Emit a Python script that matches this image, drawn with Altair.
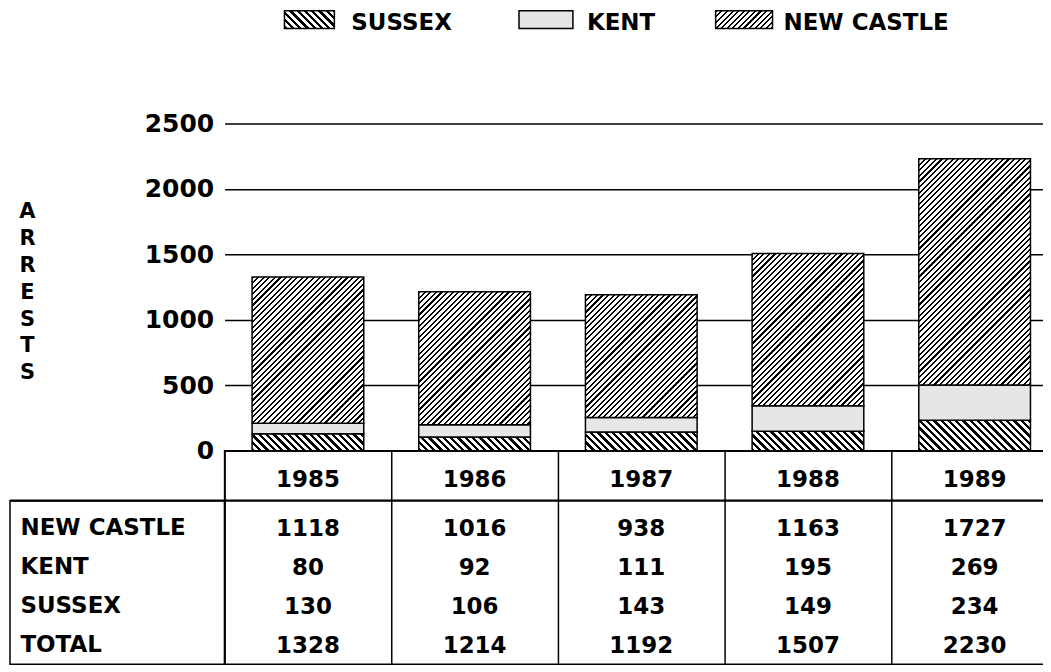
import altair as alt
import pandas as pd

# ---------------- data ----------------
years = [1985, 1986, 1987, 1988, 1989]
new_castle = [1118, 1016, 938, 1163, 1727]
kent = [80, 92, 111, 195, 269]
sussex = [130, 106, 143, 149, 234]
total = [1328, 1214, 1192, 1507, 2230]
series = ["SUSSEX", "KENT", "NEW CASTLE"]
row_labels = ["NEW CASTLE", "KENT", "SUSSEX", "TOTAL"]
y_ticks = [0, 500, 1000, 1500, 2000, 2500]
axis_title = ["A", "R", "R", "E", "S", "T", "S"]

# ---------------- layout / style ----------------
W, H, HT = 835, 328, 214      # plot width, bar plot height, table height
LBL = 215                     # width of the row-label column of the table
HDR = 50                      # height of the year header row
FONT = "DejaVu Sans"
BAR_FRAC = 0.67
YMAX = 2500
bar_w = W / len(years) * BAR_FRAC
px_per_unit = H / YMAX
KENT_FILL = "#e6e6e6"


def stripes(w, h, period, dark, rising):
    """Linear gradient giving 45-degree hatching on a w x h box."""
    h = max(h, 1.0)
    r = h / w
    s = (w + h) * w / (w * w + h * h)
    tot = w + h
    stops = []
    pos = 0.0
    while pos < tot:
        a = round(pos / tot, 5)
        b = round(min((pos + dark * period) / tot, 1.0), 5)
        c = round(min((pos + period) / tot, 1.0), 5)
        stops += [
            {"offset": a, "color": "black"},
            {"offset": b, "color": "black"},
            {"offset": b, "color": "white"},
            {"offset": c, "color": "white"},
        ]
        pos += period
    if rising:
        return {"gradient": "linear", "x1": 0, "y1": 0, "x2": s, "y2": s * r, "stops": stops}
    return {"gradient": "linear", "x1": 0, "y1": 1, "x2": s, "y2": 1 - s * r, "stops": stops}


def fill_for(name, w, h):
    if name == "SUSSEX":
        return stripes(w, h, 7.3, 0.45, False)
    if name == "KENT":
        return KENT_FILL
    return stripes(w, h, 5.6, 0.38, True)


# ---------------- bar table ----------------
rows = []
for i, yr in enumerate(years):
    base = 0
    for name, vals in zip(series, [sussex, kent, new_castle]):
        v = vals[i]
        rows.append({
            "year": str(yr), "county": name, "y0": base, "y1": base + v,
            "fill": fill_for(name, bar_w, v * px_per_unit),
        })
        base += v
bars_df = pd.DataFrame(rows)

x_scale = alt.Scale(domain=[str(y) for y in years], paddingInner=0, paddingOuter=0)

bars = alt.Chart(bars_df).mark_bar(
    width=alt.RelativeBandSize(BAR_FRAC), stroke="black", strokeWidth=1.5
).encode(
    x=alt.X("year:N", scale=x_scale, axis=None),
    y=alt.Y(
        "y0:Q",
        scale=alt.Scale(domain=[0, YMAX], nice=False),
        axis=alt.Axis(
            values=y_ticks, format="d", grid=True, gridColor="black", gridWidth=1.5,
            gridOpacity=1, domain=False, ticks=False, labelPadding=11, labelFont=FONT,
            labelFontWeight="bold", labelFontSize=25, labelColor="black",
            title=axis_title, titleAngle=0, titleAlign="center", titleBaseline="top",
            titleX=-198, titleY=77, titleLineHeight=27, titleFont=FONT,
            titleFontWeight="bold", titleFontSize=21, titleColor="black",
        ),
    ),
    y2="y1:Q",
    fill=alt.Fill("fill:N", scale=None),
)

# ---------------- legend (drawn above the plot) ----------------
legend_items = [
    (series[0], fill_for(series[0], 50, 18), 60, 110, 127),
    (series[1], KENT_FILL, 295, 349, 363),
    (series[2], fill_for(series[2], 57, 18), 492, 549, 560),
]
legend_layers = []
for name, fl, x0, x1, xt in legend_items:
    d = pd.DataFrame({"county": [name]})
    legend_layers.append(
        alt.Chart(d).mark_rect(fill=fl, stroke="black", strokeWidth=1.5).encode(
            x=alt.value(x0), x2=alt.value(x1), y=alt.value(-113), y2=alt.value(-95)
        )
    )
    legend_layers.append(
        alt.Chart(d).mark_text(
            align="left", baseline="middle", font=FONT, fontWeight="bold",
            fontSize=23, color="black"
        ).encode(x=alt.value(xt), y=alt.value(-101), text="county:N")
    )

main = alt.layer(bars, *legend_layers).properties(
    width=W, height=H, view=alt.ViewBackground(stroke="transparent")
)

# ---------------- data table ----------------
trows = []
for name, vals in zip(row_labels, [new_castle, kent, sussex, total]):
    for yr, v in zip(years, vals):
        trows.append({"year": str(yr), "row": name, "label": str(v)})
tab_df = pd.DataFrame(trows)
years_df = pd.DataFrame({"year": [str(y) for y in years]})

xt_enc = alt.X(
    "year:N", scale=x_scale,
    axis=alt.Axis(
        grid=True, tickBand="extent", labels=False, ticks=False, domain=False,
        title=None, gridColor="black", gridWidth=1.5, gridOpacity=1,
    ),
)

row_step = 39
pad_outer = (HT / row_step - len(row_labels)) / 2

values = alt.Chart(tab_df).mark_text(
    font=FONT, fontWeight="bold", fontSize=23, baseline="middle", dy=1, color="black"
).encode(
    x=xt_enc,
    y=alt.Y(
        "row:N",
        scale=alt.Scale(type="band", domain=row_labels, paddingInner=0,
                        paddingOuter=pad_outer, align=1),
        axis=alt.Axis(
            title=None, domain=False, ticks=False, labelAlign="left", labelPadding=205,
            labelFont=FONT, labelFontWeight="bold", labelFontSize=23, labelColor="black",
            labelBaseline="middle",
        ),
    ),
    text="label:N",
)

header = alt.Chart(years_df).mark_text(
    font=FONT, fontWeight="bold", fontSize=23, baseline="middle", color="black"
).encode(x=xt_enc, y=alt.value(29.5), text="year:N")

one = pd.DataFrame({"k": [0]})
header_rule = alt.Chart(one).mark_rule(color="black", strokeWidth=2.2).encode(
    x=alt.value(-LBL), x2=alt.value(W), y=alt.value(HDR)
)
label_box = alt.Chart(one).mark_rect(
    fillOpacity=0, stroke="black", strokeWidth=1.5
).encode(x=alt.value(-LBL), x2=alt.value(0), y=alt.value(HDR), y2=alt.value(HT))

table = alt.layer(values, header, header_rule, label_box).properties(
    width=W, height=HT, view=alt.ViewBackground(stroke="black", strokeWidth=1.5)
)

chart = alt.vconcat(main, table, spacing=0, bounds="flush").properties(
    padding={"left": 0, "top": 0, "right": -17, "bottom": 0},
    background="white",
)

chart.save("out.html", embed_options={"renderer": "svg", "actions": False})
